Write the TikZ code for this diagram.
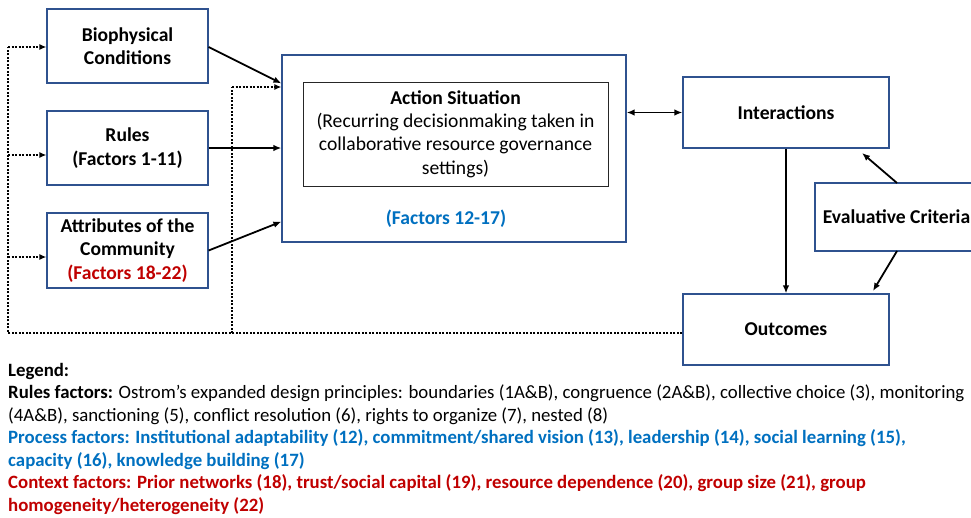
\documentclass[tikz,border=0pt]{standalone}
\usepackage{fontspec}
\setmainfont{Carlito}
\usetikzlibrary{arrows.meta}
\definecolor{boxblue}{HTML}{2F528F}
\definecolor{fblue}{HTML}{0070C0}
\definecolor{fred}{HTML}{C00000}
\begin{document}
\begin{tikzpicture}[x=1pt,y=-1pt,
  box/.style={draw=boxblue, line width=1.2pt, fill=white, align=center, inner sep=0pt,
    font=\fontsize{19.6}{23.5}\selectfont\bfseries},
  inbox/.style={draw=black!85, line width=1pt, align=center, inner sep=0pt,
    font=\fontsize{19.6}{23.2}\selectfont},
  arr/.style={line width=1.8pt, -{Latex[length=8pt,width=6.5pt]}},
  dots/.style={line width=2pt, dash pattern=on 2pt off 1.5pt},
  darr/.style={dots, -{Latex[length=7pt,width=6pt]}},
  leg/.style={anchor=base west, inner sep=0pt, font=\fontsize{18.8}{22}\selectfont}
]
\useasboundingbox (0,0) rectangle (971,517);
\clip (0,0) rectangle (971,517);
% boxes
\node[box, minimum width=161pt, minimum height=74pt] (bio) at (127.5,46) {Biophysical\\Conditions};
\node[box, minimum width=161pt, minimum height=74pt] (rules) at (127.5,148) {Rules\\(Factors 1-11)};
\node[box, minimum width=161pt, minimum height=75pt] (attr) at (127.5,250.5) {Attributes of the\\Community\\\textcolor{fred}{(Factors 18-22)}};
\node[box, minimum width=344pt, minimum height=187pt] (act) at (454,148.5) {};
\node[inbox, minimum width=305pt, minimum height=104pt] (inner) at (455.5,134) {\textbf{Action Situation}\\(Recurring decisionmaking taken in\\collaborative resource governance\\settings)};
\node[inner sep=0pt, font=\fontsize{19.6}{23.5}\selectfont\bfseries, text=fblue] (f1217) at (446,219) {(Factors 12-17)};
\node[box, minimum width=206pt, minimum height=71pt] (inter) at (786,112.5) {Interactions};
\node[box, minimum width=163pt, minimum height=68pt] (eval) at (896.5,217) {Evaluative Criteria};
\node[box, minimum width=206pt, minimum height=71pt] (outc) at (786,329.5) {Outcomes};
% coordinates
\coordinate (lb) at (8,333);
\coordinate (lt) at (8,47);
\coordinate (lr) at (8,155);
\coordinate (la) at (8,257);
\coordinate (mb) at (232,333);
\coordinate (mt) at (232,87);
\coordinate (e1) at (897,183);
\coordinate (e1t) at (862,153);
\coordinate (e2) at (897,251);
\coordinate (e2t) at (873,291);
% dotted feedback
\draw[dots] ([yshift=-3.5pt]outc.west) -- (lb) -- (lt);
\draw[darr] (lt) -- (lt -| bio.west);
\draw[darr] (lr) -- (lr -| rules.west);
\draw[darr] (la) -- (la -| attr.west);
\draw[dots] (mb) -- (mt);
\draw[darr] (mt) -- (mt -| act.west);
% solid arrows
\draw[arr] ([yshift=-1pt]bio.east) -- ([yshift=-29pt]act.north west);
\draw[arr] (rules.east) -- (rules.east -| act.west);
\draw[arr] (attr.east) -- ([yshift=21pt]act.south west);
\draw[line width=1.8pt, {Latex[length=8pt,width=6.5pt]}-{Latex[length=8pt,width=6.5pt]}] (act.east |- inter.west) -- (inter.west);
\draw[arr] (inter.south) -- (outc.north);
\draw[arr] (e1) -- (e1t);
\draw[arr] (e2) -- (e2t);
% legend
\node[leg] (l1) at (8,376) {\bfseries Legend:};
\node[leg] (l2) at (8,398.5) {\textbf{Rules factors:} Ostrom’s expanded design principles: boundaries (1A\&B), congruence (2A\&B), collective choice (3), monitoring};
\node[leg] (l3) at (8,421) {(4A\&B), sanctioning (5), conflict resolution (6), rights to organize (7), nested (8)};
\node[leg, text=fblue, font=\fontsize{18.8}{22}\selectfont\bfseries] (l4) at (8,443.5) {Process factors: Institutional adaptability (12), commitment/shared vision (13), leadership (14), social learning (15),};
\node[leg, text=fblue, font=\fontsize{18.8}{22}\selectfont\bfseries] (l5) at (8,466) {capacity (16), knowledge building (17)};
\node[leg, text=fred, font=\fontsize{18.8}{22}\selectfont\bfseries] (l6) at (8,488.5) {Context factors: Prior networks (18), trust/social capital (19), resource dependence (20), group size (21), group};
\node[leg, text=fred, font=\fontsize{18.8}{22}\selectfont\bfseries] (l7) at (8,511) {homogeneity/heterogeneity (22)};
\end{tikzpicture}
\end{document}
